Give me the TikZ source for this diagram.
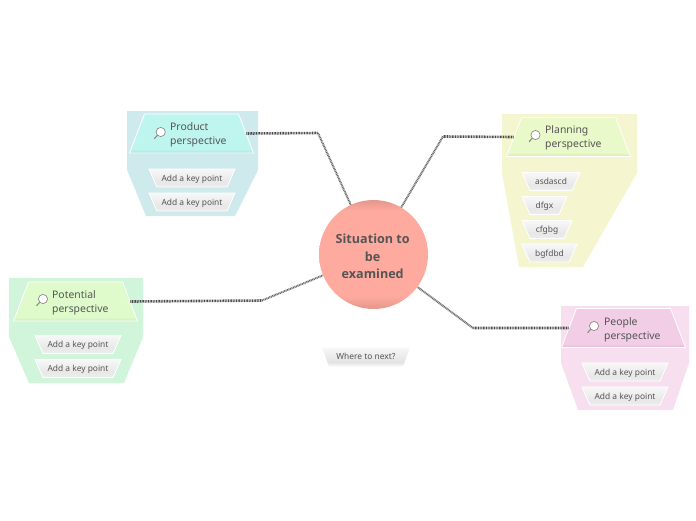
\documentclass[tikz,border=0pt]{standalone}
\usepackage{fontspec}
\setmainfont{Noto Sans}
\newfontfamily\sitfont{Open Sans}
\usetikzlibrary{shapes.geometric}

\definecolor{inkText}{HTML}{555555}
\definecolor{inkLink}{HTML}{4A4A4A}
\definecolor{productPanel}{HTML}{CFEAEC}
\definecolor{planningPanel}{HTML}{F5F6CF}
\definecolor{potentialPanel}{HTML}{D0F5DA}
\definecolor{peoplePanel}{HTML}{F8DFF0}

\newcommand{\topicshade}[3]{\pgfdeclareverticalshading{#1}{100bp}{
	color(0bp)=(#3); color(25bp)=(#3); color(30bp)=(#2); color(75bp)=(#2); color(100bp)=(#2)}}
\definecolor{productTop}{HTML}{BFF5EF} \definecolor{productBand}{HTML}{AEE2DE}
\definecolor{planningTop}{HTML}{E9F9C9} \definecolor{planningBand}{HTML}{D5E8B5}
\definecolor{potentialTop}{HTML}{DFFBCB} \definecolor{potentialBand}{HTML}{CCEBB8}
\definecolor{peopleTop}{HTML}{F2CDE6} \definecolor{peopleBand}{HTML}{E3B8D5}
\topicshade{productShade}{productTop}{productBand}
\topicshade{planningShade}{planningTop}{planningBand}
\topicshade{potentialShade}{potentialTop}{potentialBand}
\topicshade{peopleShade}{peopleTop}{peopleBand}

\definecolor{sitFlat}{HTML}{FFAA9E} \definecolor{sitDark}{HTML}{E4978C}
\pgfdeclareverticalshading{sitShade}{100bp}{
	color(0bp)=(sitDark); color(25bp)=(sitDark); color(31bp)=(sitFlat); color(70bp)=(sitFlat); color(75bp)=(sitDark); color(100bp)=(sitDark)}
\pgfdeclareverticalshading{keyShade}{100bp}{
	color(0bp)=(black!7); color(25bp)=(black!7); color(40bp)=(black!9); color(75bp)=(black!3); color(100bp)=(black!3)}
\pgfdeclareverticalshading{nextShade}{100bp}{
	color(0bp)=(white); color(25bp)=(white); color(36bp)=(black!11); color(68bp)=(black!4); color(75bp)=(white); color(100bp)=(white)}

\tikzset{
	topic/.style={trapezium, trapezium stretches body=true, draw=white, line width=0.8pt, inner sep=1pt, text height=37pt, text depth=0pt, trapezium left angle=69, trapezium right angle=69, minimum width=124, shading=#1},
	keypoint/.style={trapezium, trapezium stretches body=true, shape border rotate=180, draw=white, line width=0.8pt, inner xsep=0pt, inner ysep=4.3pt, text height=8pt, text depth=1.4pt, trapezium left angle=66, trapezium right angle=66, shading=keyShade, text=inkText, font=\fontsize{8.4}{10}\selectfont},
	topicText/.style={anchor=west, inner sep=0pt, align=left, text=inkText, font=\fontsize{10.4}{14}\selectfont},
	link/.style={draw=inkLink, line width=2.6pt, dash pattern=on 0.9pt off 0.7pt},
	thinlink/.style={draw=inkLink!85, line width=2pt, dash pattern=on 0.9pt off 0.7pt}
}
\newcommand{\lens}[2]{
	\draw[black!45, line width=0.7pt, fill=white] (#1,#2) circle (4.6);
	\draw[black!45, line width=1.1pt, line cap=round] (#1-3.2,#2+3.2) -- (#1-6.3,#2+6.6);
}

\begin{document}
\begin{tikzpicture}[x=1pt,y=-1pt]
\useasboundingbox (0,0) rectangle (696,520);
% panels
\fill[productPanel] (127,111) -- (258,111) -- (258,170) -- (235,216) -- (146,216) -- (127,170) -- cycle;
\fill[planningPanel] (502,114) -- (637,114) -- (637,173) -- (583,267) -- (519,267) -- (502,173) -- cycle;
\fill[potentialPanel] (9,278) -- (143,278) -- (143,337) -- (124,383) -- (29,383) -- (9,337) -- cycle;
\fill[peoplePanel] (561,306) -- (689,306) -- (689,363) -- (673,410) -- (578,410) -- (561,363) -- cycle;

% centre
\node[circle, minimum size=109, inner sep=0pt, shading=sitShade] (sit) at (373.5,254.5) {};
\node[inner sep=0pt, align=center, text=inkText, font=\fontsize{12.6}{17.5}\selectfont\sitfont\bfseries] (sitText) at (372.7,256.5) {Situation to\\be\\examined};

% topics
\node[topic=productShade] (productTopic) at (191.5,133.5) {};
\node[topic=planningShade] (planningTopic) at (568.5,137) {};
\node[topic=potentialShade] (potentialTopic) at (75.5,301.5) {};
\node[topic=peopleShade] (peopleTopic) at (623.5,328) {};
\node[topicText] (productText) at (170,135) {Product\\perspective};
\node[topicText] (planningText) at (545,137.5) {Planning\\perspective};
\node[topicText] (potentialText) at (52,303) {Potential\\perspective};
\node[topicText] (peopleText) at (604,330) {People\\perspective};
\lens{160.7}{132}
\lens{535.5}{135}
\lens{43}{299}
\lens{594}{326}

% links
\coordinate (productBend) at (318,133);
\coordinate (planningBend) at (443,136.5);
\coordinate (potentialBend) at (262,300.5);
\coordinate (peopleBend) at (473,328);
\draw[link] (productTopic.east) -- (productBend);
\draw[thinlink] (productBend) -- (sit);
\draw[link] (planningTopic.west) -- (planningBend);
\draw[thinlink] (planningBend) -- (sit);
\draw[link] (potentialTopic.east) -- (potentialBend);
\draw[thinlink] (potentialBend) -- (sit);
\draw[link] (peopleTopic.west) -- (peopleBend);
\draw[thinlink] (peopleBend) -- (sit);

% key points
\node[keypoint, minimum width=86] (productOne) at (192,178) {Add a key point};
\node[keypoint, minimum width=86] (productTwo) at (192,202) {Add a key point};
\node[keypoint, minimum width=58] (planningOne) at (551,181.5) {asdascd};
\node[keypoint, minimum width=45] (planningTwo) at (544.5,205.5) {dfgx};
\node[keypoint, minimum width=50] (planningThree) at (547,229.5) {cfgbg};
\node[keypoint, minimum width=55] (planningFour) at (549.5,253) {bgfdbd};
\node[keypoint, minimum width=86] (potentialOne) at (78,344.5) {Add a key point};
\node[keypoint, minimum width=86] (potentialTwo) at (78,368.5) {Add a key point};
\node[keypoint, minimum width=86] (peopleOne) at (625,372) {Add a key point};
\node[keypoint, minimum width=86] (peopleTwo) at (625,396) {Add a key point};
\node[trapezium, trapezium stretches body=true, shape border rotate=180, inner xsep=0pt, inner ysep=5.8pt, text height=8pt, text depth=1.4pt, trapezium left angle=70, trapezium right angle=70, minimum width=89, shading=nextShade, text=inkText, font=\fontsize{8.4}{10}\selectfont] (nextPoint) at (366,356.5) {Where to next?};
\end{tikzpicture}
\end{document}
